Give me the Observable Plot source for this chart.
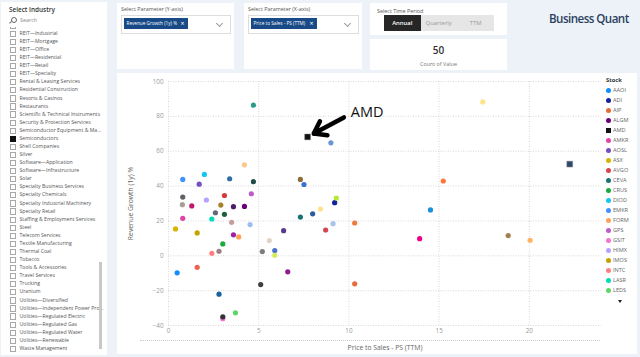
<!DOCTYPE html>
<html><head><meta charset="utf-8">
<script src="https://cdn.jsdelivr.net/npm/d3@7"></script>
<script src="https://cdn.jsdelivr.net/npm/@observablehq/plot@0.6"></script>
<style>
html,body{margin:0;padding:0;}
body{width:640px;height:357px;position:relative;overflow:hidden;background:#edf2f8;font-family:"Segoe UI","Open Sans","DejaVu Sans",sans-serif;color:#444;}
.panel{position:absolute;background:#fff;}
.ttl{position:absolute;font-size:5.4px;color:#555;white-space:nowrap;}
.list{position:absolute;left:0;top:25px;width:105px;height:330px;overflow:hidden;}
.item{position:absolute;left:0;height:8.08px;line-height:8.08px;font-size:5.15px;color:#555;white-space:nowrap;}
.item .cb{position:absolute;left:9px;top:1.8px;width:4.2px;height:4.2px;border:0.6px solid #a8a8a8;background:#fff;}
.item .cb.on{background:#111;border-color:#111;}
.item span.t{position:absolute;left:18.5px;}
.chip{position:absolute;background:#174a87;color:#fff;font-size:4.7px;line-height:10.6px;padding-left:3px;white-space:nowrap;}
.btn{position:absolute;top:15.3px;height:16px;line-height:16px;text-align:center;font-size:5.9px;}
.leg{position:absolute;left:606px;font-size:5.6px;color:#666;white-space:nowrap;}
.leg i{position:absolute;left:0;top:1px;width:5px;height:5px;border-radius:50%;}
.leg span{position:absolute;left:7px;top:0;line-height:7px;}
</style></head>
<body>
<div id="root"></div>
<script>
// ---------- data ----------
const industries = ["REIT—Hotel & Motel","REIT—Industrial","REIT—Mortgage","REIT—Office","REIT—Residential","REIT—Retail","REIT—Specialty","Rental & Leasing Services","Residential Construction","Resorts & Casinos","Restaurants","Scientific & Technical Instruments","Security & Protection Services","Semiconductor Equipment & Ma...","Semiconductors","Shell Companies","Silver","Software—Application","Software—Infrastructure","Solar","Specialty Business Services","Specialty Chemicals","Specialty Industrial Machinery","Specialty Retail","Staffing & Employment Services","Steel","Telecom Services","Textile Manufacturing","Thermal Coal","Tobacco","Tools & Accessories","Travel Services","Trucking","Uranium","Utilities—Diversified","Utilities—Independent Power Pro...","Utilities—Regulated Electric","Utilities—Regulated Gas","Utilities—Regulated Water","Utilities—Renewable","Waste Management"];
const selectedIndustry = "Semiconductors";
const timePeriods = ["Annual","Quarterly","TTM"];
const countValue = 50;

const stocks = ["AAOI","ADI","AIP","ALGM","AMD","AMKR","AOSL","ASX","AVGO","CEVA","CRUS","DIOD","EMKR","FORM","GPS","GSIT","HIMX","IMOS","INTC","LASR","LEDS",
 "LSCC","MCHP","MPWR","MRAM","MRVL","MTSI","MU","MX","MXL","NLST","NVDA","NVEC","NVTS","NXPI","OLED","ON","PI","PLAB","POET","POWI","PXLW","QCOM","QRVO","QUIK","RMBS","SGH","SIMO","SITM","SKYT","SLAB","SMTC","SQNS","SWKS","SYNA","TSEM","TSM","TXN","UMC","VSH","WISA","WOLF"];
const priceToSales = [0.48,9.21,10.32,4.21,7.71,0.79,1.70,0.39,8.71,7.31,3.01,1.99,0.79,3.89,4.59,3.01,2.10,1.59,2.40,2.40,3.71,
 4.71,9.00,4.21,3.39,4.71,7.31,7.51,0.79,3.10,0.77,22.24,1.29,2.90,3.60,9.30,8.42,2.60,3.10,7.99,17.42,15.23,14.52,3.50,4.52,3.60,2.80,5.59,5.20,5.89,5.89,6.38,9.12,10.32,1.59,6.61,5.11,2.80,3.01,13.92,18.83,20.04];
const revenueGrowth = [-9.8,30.5,-16.1,28.3,68.2,21.5,41.1,15.4,14.8,22.2,6.8,46.7,43.8,10.8,35.6,-36.1,32.0,13.1,1.4,21.1,-32.7,
 86.4,64.8,52.2,44.2,42.5,43.8,40.9,33.7,34.6,29.3,52.6,28.6,29.1,28.2,33.1,26.8,24.7,23.8,24.1,88.3,42.9,26.3,19.2,17.9,12.0,2.6,8.7,2.4,3.0,0.3,14.4,18.4,18.8,-6.6,-9.2,-16.5,-22.0,-35.0,9.8,11.6,8.9];
const highlighted = ["AMD","NVDA"];
const annotationLabel = ["AMD"];
const annotationX = [10.1];
const annotationY = [82.5];
const arrowTailX = [9.72];
const arrowTailY = [79.4];
const legendCount = 21;

// ---------- styles ----------
const palette = ["#118DFF","#12239E","#E66C37","#6B007B","#111111","#E044A7","#744EC2","#D9B300","#D64550","#197278","#1AAB40","#15C6F4","#4092FF","#FFA058","#BE5DC9","#F472D0","#B5A1FF","#C4A200","#FF8080","#00DBBC","#5BD667",
 "#2A9C8A","#6A96D8","#FFC68A","#2F6DA8","#1E4D4A","#8C6D3F","#3B6FD1","#5F6166","#D63B3B","#A8A098","#2E4A6B","#C0186C","#A6802A","#4B1C6E","#B8E830","#FFE08C","#5E6A78","#1F5F3E","#2B5C9C","#FFE38A","#FF7438","#1A8FE0","#C4A09C","#9DBDF2","#A0209F","#A07F86","#E2D4C4","#7C7C7C","#4A72CC","#D2EE5A","#5B3A8E","#AAC2F2","#EE7A40","#F26150","#8E1C8E","#3F3F3F","#1565A3","#333333","#EC008C","#A3824F","#FFB262"];

const data = stocks.map((s,i)=>({stock:s, ps:priceToSales[i], growth:revenueGrowth[i]}));
const circles = data.filter(d=>!highlighted.includes(d.stock));
const squares = data.filter(d=>highlighted.includes(d.stock));
const amd = data.find(d=>d.stock==="AMD");
const ann = annotationLabel.map((l,i)=>({label:l,x:annotationX[i],y:annotationY[i],tx:arrowTailX[i],ty:arrowTailY[i],px:amd.ps,py:amd.growth}));

const root = document.getElementById("root");
function el(tag, cls, style, html){const e=document.createElement(tag); if(cls) e.className=cls; if(style) e.style.cssText=style; if(html!=null) e.innerHTML=html; return e;}

// left slicer panel
const left = el("div","panel","left:1px;top:2px;width:106px;height:353px;");
root.appendChild(left);
left.appendChild(el("div","ttl","left:8px;top:3px;font-size:6.4px;font-weight:600;color:#333;","Select Industry"));
left.appendChild(el("div","","position:absolute;left:10px;top:14.5px;width:4px;height:4px;border:0.7px solid #666;border-radius:50%;"));
left.appendChild(el("div","","position:absolute;left:8.3px;top:19.6px;width:2.6px;height:0.7px;background:#666;transform:rotate(-45deg);"));
left.appendChild(el("div","ttl","left:19px;top:13.8px;font-size:5.4px;color:#888;","Search"));
const list = el("div","list",""); left.appendChild(list);
industries.forEach((name,i)=>{
  const it = el("div","item","top:"+(-6.2+i*8.08)+"px;");
  it.appendChild(el("div","cb"+(name===selectedIndustry?" on":""),""));
  it.appendChild(el("span","t","",name));
  list.appendChild(it);
});
left.appendChild(el("div","","position:absolute;left:98px;top:260px;width:3px;height:87px;background:#c8c8c8;"));

// parameter panels
[["Select Parameter (Y-axis)","Revenue Growth (1y) %",117,64],["Select Parameter (X-axis)","Price to Sales - PS (TTM)",244,66]].forEach(([t,c,x,w])=>{
  const p = el("div","panel","left:"+x+"px;top:3px;width:"+(x===117?117:118)+"px;height:66px;");
  root.appendChild(p);
  p.appendChild(el("div","ttl","left:4px;top:1.5px;",t));
  const box = el("div","","position:absolute;left:4px;top:12px;width:"+(x===117?108:109)+"px;height:17px;border:0.6px solid #ddd;");
  p.appendChild(box);
  box.appendChild(el("div","chip","left:1.5px;top:2px;width:"+(w-3)+"px;height:10.6px;",c+"<span style='position:absolute;right:3px;font-size:7px;top:0.5px'>×</span>"));
  box.appendChild(el("div","","position:absolute;right:8px;top:5px;width:4px;height:4px;border-right:0.6px solid #999;border-bottom:0.6px solid #999;transform:rotate(45deg);"));
});

// time period
const tp = el("div","panel","left:370px;top:3px;width:137px;height:32px;");
root.appendChild(tp);
tp.appendChild(el("div","ttl","left:7px;top:4px;","Select Time Period"));
[[384,36.5],[420.7,36],[457.3,36.7]].forEach(([x,w],i)=>{
  const on = i===0;
  root.appendChild(el("div","btn","left:"+x+"px;width:"+w+"px;background:"+(on?"#262626":"#e6e6e6")+";color:"+(on?"#fff":"#999")+";"+(on?"font-weight:600;":""),timePeriods[i]));
});
const cnt = el("div","panel","left:370px;top:39px;width:137px;height:31px;");
root.appendChild(cnt);
cnt.appendChild(el("div","","position:absolute;left:0;width:137px;top:4px;text-align:center;font-size:10px;color:#333;font-weight:600;",String(countValue)));
cnt.appendChild(el("div","","position:absolute;left:0;width:137px;top:20.5px;text-align:center;font-size:5.4px;color:#777;","Count of Value"));

// logo
root.appendChild(el("div","","position:absolute;left:549px;top:11px;font-size:11.6px;font-weight:600;color:#2b3f5e;letter-spacing:-0.55px;white-space:nowrap;","Business Quant"));

// chart panel
root.appendChild(el("div","panel","left:117px;top:73px;width:520px;height:281px;"));
root.appendChild(el("div","","position:absolute;left:140px;top:340px;width:460px;height:0;border-top:0.7px dotted #ccc;"));

// legend
root.appendChild(el("div","leg","top:76px;font-weight:700;color:#333;font-size:5.8px;","Stock"));
stocks.slice(0,legendCount).forEach((s,i)=>{
  const g = el("div","leg","top:"+(86.5+i*10.03)+"px;");
  const sq = highlighted.includes(s);
  g.appendChild(el("i","","background:"+palette[i]+";"+(sq?"border-radius:0;":"")));
  g.appendChild(el("span","",null,s));
  root.appendChild(g);
});
root.appendChild(el("div","","position:absolute;left:617.5px;top:300px;width:0;height:0;border-left:2.5px solid transparent;border-right:2.5px solid transparent;border-top:3px solid #222;"));

// ---------- plot ----------
const chart = Plot.plot({
  width: 486, height: 279,
  marginLeft: 52, marginTop: 8, marginRight: 1, marginBottom: 27,
  style: {fontFamily: "'Segoe UI','Open Sans','DejaVu Sans',sans-serif", fontSize: "6.3px", color: "#999", background: "transparent", overflow: "visible"},
  x: {domain: [0, 24], ticks: [0,5,10,15,20]},
  y: {domain: [-40, 100], ticks: d3.range(-40, 101, 20)},
  color: {domain: stocks, range: palette},
  marks: [
    Plot.gridX({ticks: [0,5,10,15,20], stroke: "#c8c8c8", strokeOpacity: 1, strokeDasharray: "1,1.5", strokeWidth: 0.7}),
    Plot.gridY({ticks: d3.range(-40, 101, 20), stroke: "#c8c8c8", strokeOpacity: 1, strokeDasharray: "1,1.5", strokeWidth: 0.7}),
    Plot.axisX({ticks: [0,5,10,15,20], tickSize: 0, tickPadding: 3, label: "Price to Sales - PS (TTM)", labelAnchor: "center", labelArrow: "none", labelOffset: 24, fill: "#999"}),
    Plot.axisY({ticks: d3.range(-40, 101, 20), tickSize: 0, tickPadding: 5, label: "Revenue Growth (1y) %", labelAnchor: "center", labelArrow: "none", labelOffset: 40, fill: "#999"}),
    Plot.dot(circles, {x: "ps", y: "growth", fill: "stock", r: 2.6}),
    Plot.dot(squares, {x: "ps", y: "growth", fill: "stock", symbol: "square", r: 3.3, stroke: "#888", strokeWidth: 0.5}),
    Plot.arrow(ann, {x1: "tx", y1: "ty", x2: "px", y2: "py", insetEnd: 7, stroke: "#000", strokeWidth: 4.5, headLength: 11, headAngle: 70}),
    Plot.text(ann, {x: "x", y: "y", text: "label", textAnchor: "start", fontSize: 14.5, fill: "#111"})
  ]
});
chart.style.position = "absolute";
chart.style.left = "116px";
chart.style.top = "73px";
root.appendChild(chart);
chart.querySelectorAll("text").forEach(t=>{
  if (t.textContent === "Price to Sales - PS (TTM)" || t.textContent === "Revenue Growth (1y) %") { t.setAttribute("fill","#666"); t.style.fontSize = "6.8px"; }
});
</script>
</body></html>
